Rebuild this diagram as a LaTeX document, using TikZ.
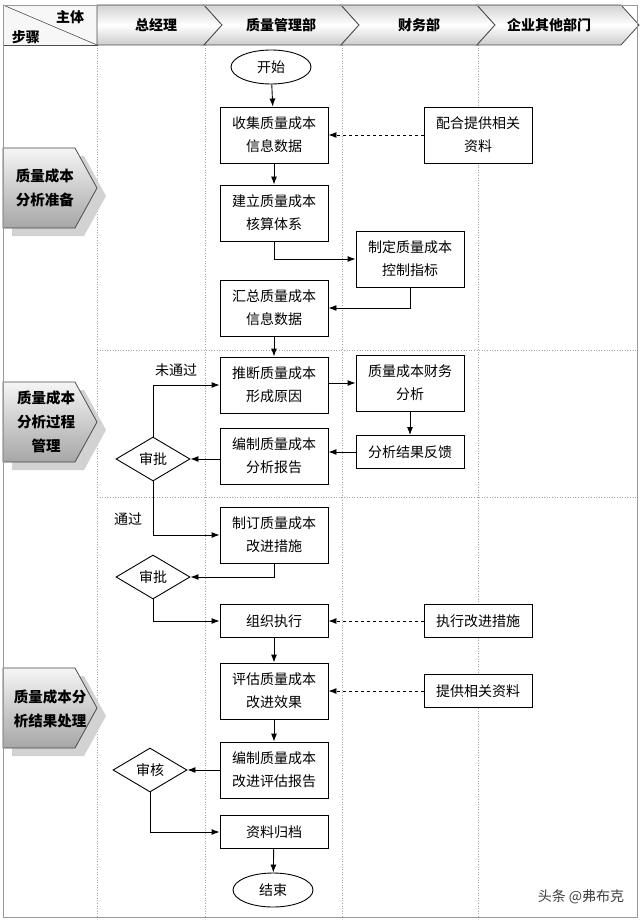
\documentclass[tikz,border=0pt]{standalone}
\usepackage{fontspec}
\newfontfamily\cjk{Noto Sans CJK SC}
\usetikzlibrary{shapes.geometric,arrows.meta}
\begin{document}
\begin{tikzpicture}[x=1pt,y=-1pt,
  txt/.style={font=\cjk\fontsize{14}{23}\selectfont},
  box/.style={draw, line width=0.9pt, minimum width=108pt, minimum height=56pt, align=center, inner sep=2pt, txt, fill=white},
  sbox/.style={box, minimum height=33pt},
  term/.style={draw, line width=0.9pt, ellipse, minimum width=80pt, minimum height=34pt, inner sep=0pt, txt, fill=white},
  dia/.style={draw, line width=0.9pt, diamond, minimum width=74pt, minimum height=44pt, inner sep=0pt, txt, fill=white},
  arr/.style={line width=0.9pt, -{Latex[length=8pt,width=6pt]}},
  darr/.style={arr, dashed},
  lane/.style={gray!70, dotted, line width=0.6pt},
  head/.style={font=\cjk\bfseries\fontsize{14}{16}\selectfont},
  stg/.style={font=\cjk\bfseries\fontsize{14.5}{24}\selectfont, align=center},
  chev/.style={draw=black!70, line width=0.8pt, top color=gray!35, bottom color=gray!40, middle color=white},
  stage/.style={draw=black!70, line width=0.8pt, top color=gray!8, bottom color=gray!70}
]
\useasboundingbox (0,0) rectangle (640,920);
\fill[white] (0,0) rectangle (640,920);

% lanes
\draw[lane] (97,45) -- (97,917);
\draw[lane] (205,45) -- (205,917);
\draw[lane] (342,45) -- (342,917);
\draw[lane] (478,45) -- (478,917);
\draw[lane] (97,350) -- (637,350);
\draw[lane] (97,497) -- (637,497);

% header
\draw[black!70, line width=0.8pt, fill=gray!6] (3,5) rectangle (97,45);
\draw[black!70, line width=0.6pt] (3,5) -- (97,45);
\node[head] (zt) at (70,17) {主体};
\node[head] (bz0) at (26,37) {步骤};
\path[chev] (97,5) -- (204,5) -- (222,25) -- (204,45) -- (97,45) -- cycle;
\path[chev] (204,5) -- (341,5) -- (359,25) -- (341,45) -- (204,45) -- (222,25) -- cycle;
\path[chev] (341,5) -- (477,5) -- (495,25) -- (477,45) -- (341,45) -- (359,25) -- cycle;
\path[chev] (477,5) -- (621,5) -- (639,25) -- (621,45) -- (477,45) -- (495,25) -- cycle;
\node[head] (h1) at (156,25) {总经理};
\node[head] (h2) at (281,25) {质量管理部};
\node[head] (h3) at (419,25) {财务部};
\node[head] (h4) at (549,25) {企业其他部门};

% stages
\foreach \y in {148,382,668}{
  \fill[gray!35] (12,\y+8) -- (84,\y+8) -- (106,\y+48) -- (84,\y+88) -- (12,\y+88) -- cycle;
  \path[stage] (3,\y) -- (75,\y) -- (97,\y+40) -- (75,\y+80) -- (3,\y+80) -- cycle;
}
\node[stg] (s1) at (45,188) {质量成本\\分析准备};
\node[stg] (s2) at (46,422) {质量成本\\分析过程\\管理};
\node[stg] (s3) at (50,709) {质量成本分\\析结果处理};

% nodes
\node[term] (start) at (271,67) {开始};
\node[box] (n1) at (274,135) {收集质量成本\\信息数据};
\node[box] (pei) at (478,135) {配合提供相关\\资料};
\node[box] (n2) at (274,213) {建立质量成本\\核算体系};
\node[box] (zd) at (410,259) {制定质量成本\\控制指标};
\node[box] (hz) at (274,308) {汇总质量成本\\信息数据};
\node[box] (td) at (274,385) {推断质量成本\\形成原因};
\node[box] (cw) at (410,383) {质量成本财务\\分析};
\node[box] (bg1) at (274,456) {编制质量成本\\分析报告};
\node[sbox] (fk) at (410,452) {分析结果反馈};
\node[dia] (sp1) at (153,459) {审批};
\node[txt] (wtg) at (176,370) {未通过};
\node[txt] (tg) at (128,519) {通过};
\node[box] (zd2) at (274,535) {制订质量成本\\改进措施};
\node[dia] (sp2) at (153,577) {审批};
\node[sbox] (zx) at (274,621) {组织执行};
\node[sbox] (zxcs) at (478,621) {执行改进措施};
\node[box] (pg) at (274,691) {评估质量成本\\改进效果};
\node[sbox] (tgzl) at (478,691) {提供相关资料};
\node[box] (bg2) at (274,770) {编制质量成本\\改进评估报告};
\node[dia] (sh) at (150,770) {审核};
\node[sbox] (gd) at (274,832) {资料归档};
\node[term] (end) at (273,890) {结束};

% connectors
\draw[arr] (start) -- (n1);
\draw[darr] (pei) -- (n1);
\draw[arr] (n1) -- (n2);
\draw[arr] (n2.south) |- (zd.west);
\draw[arr] (zd.south) |- (hz.east);
\draw[arr] (hz) -- (td);
\draw[arr] (td.east |- cw.west) -- (cw.west);
\draw[arr] (cw) -- (fk);
\draw[arr] (fk.west) -- (fk.west -| bg1.east);
\draw[arr] (bg1.west |- sp1.east) -- (sp1.east);
\draw[arr] (sp1.north) |- (td.west);
\draw[arr] (sp1.south) |- (zd2.west);
\draw[arr] (zd2.south) |- (sp2.east);
\draw[arr] (sp2.south) |- (zx.west);
\draw[darr] (zxcs) -- (zx);
\draw[arr] (zx) -- (pg);
\draw[darr] (tgzl) -- (pg);
\draw[arr] (pg) -- (bg2);
\draw[arr] (bg2) -- (sh);
\draw[arr] (sh.south) |- (gd.west);
\draw[arr] (gd) -- (end);

% frame & watermark
\draw[gray!80, line width=0.8pt] (3,5) rectangle (637,917);
\node[font=\cjk\fontsize{14}{16}\selectfont, text=black!75] (wm) at (581,897) {头条 @弗布克};
\end{tikzpicture}
\end{document}
